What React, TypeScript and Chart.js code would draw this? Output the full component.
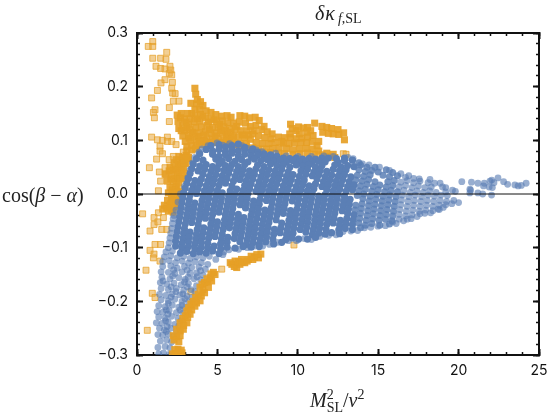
import React, { useEffect, useRef } from "react";
import { Chart, registerables } from "chart.js";

Chart.register(...registerables);

const xMajorTicks = [0, 5, 10, 15, 20, 25];

// flat lists: x, y, x, y ...
const blueTop = [
4.6,.09,5.1,.092,5.5,.088,5.9,.09,6.3,.093,6.7,.087,7.2,.084,
4.3,.083,4.7,.08,5.1,.083,5.5,.079,5.9,.082,6.3,.08,6.7,.083,7.1,.079,7.5,.078,7.9,.075,8.3,.073,
3.9,.075,4.7,.074,5.1,.07,5.5,.073,5.9,.076,6.3,.071,6.7,.074,7.1,.07,7.5,.072,7.9,.07,8.3,.068,8.7,.07,9.1,.067,9.5,.066,9.9,.067,10.3,.065,10.7,.066,11.1,.065,11.5,.067,11.9,.067,12.4,.066,12.9,.067,
3.7,.066,4.1,.063,4.9,.065,5.3,.062,5.7,.066,6.1,.061,6.5,.064,6.9,.06,7.3,.065,7.7,.062,8.1,.064,8.5,.061,8.9,.063,9.3,.06,9.7,.062,10.1,.059,10.5,.06,10.9,.059,11.3,.061,11.7,.06,12.5,.059,12.9,.062,13.4,.063,13.8,.058,
3.5,.056,3.9,.052,4.3,.055,4.7,.051,5.1,.056,5.5,.053,5.9,.055,6.3,.051,6.7,.055,7.5,.054,7.9,.051,8.3,.056,8.7,.053,9.1,.055,9.5,.05,9.9,.054,10.3,.052,10.7,.055,11.1,.05,11.5,.053,12.3,.054,12.7,.05,13.1,.053,13.5,.051,13.9,.054,14.3,.05,14.8,.05,
3.4,.047,3.8,.043,4.2,.046,4.6,.042,5,.046,5.4,.044,5.8,.047,6.2,.042,6.6,.045,7,.043,7.4,.047,7.8,.042,8.2,.045,8.6,.043,9,.046,9.4,.041,10.2,.043,10.6,.046,11,.041,11.4,.044,11.8,.042,12.2,.046,12.6,.043,13,.045,13.8,.045,14.2,.042,14.6,.044,15,.041,15.5,.045,15.9,.04,
];
const blueMid = [
3.3,.038,4.1,.037,4.5,.033,4.9,.036,5.3,.034,5.7,.038,6.1,.033,6.5,.036,6.9,.034,7.3,.037,7.7,.032,8.1,.036,8.5,.034,8.9,.037,9.3,.033,9.7,.036,10.1,.033,10.5,.037,10.9,.034,11.3,.036,11.7,.032,12.1,.035,12.5,.033,12.9,.036,13.3,.032,13.7,.035,14.1,.033,14.5,.036,15.3,.035,15.7,.032,16.2,.034,16.7,.031,17.2,.029,
3.2,.029,3.6,.025,4,.028,4.4,.024,4.8,.027,5.2,.025,5.6,.029,6,.024,6.4,.027,6.8,.025,7.2,.028,7.6,.023,8,.026,8.4,.024,8.8,.028,9.2,.024,9.6,.027,10,.023,10.4,.026,11.2,.028,11.6,.023,12,.026,12.4,.024,12.8,.027,13.2,.023,13.6,.026,14,.024,14.4,.027,14.8,.023,15.6,.023,16,.025,16.4,.022,16.8,.025,17.2,.021,17.6,.024,18.1,.021,18.5,.02,
3.1,.02,3.5,.016,3.9,.019,4.3,.015,4.7,.018,5.1,.016,5.5,.02,5.9,.015,6.7,.016,7.1,.019,7.5,.014,7.9,.017,8.3,.015,8.7,.019,9.1,.015,9.5,.018,9.9,.014,10.3,.017,10.7,.015,11.1,.019,11.5,.014,11.9,.017,12.3,.015,12.7,.018,13.1,.014,13.5,.017,13.9,.015,14.3,.018,14.7,.014,15.1,.017,15.5,.013,15.9,.016,16.3,.013,16.7,.016,17.1,.012,17.5,.015,17.9,.012,18.3,.013,19,.013,
3,.011,3.4,.007,3.8,.01,4.2,.006,4.6,.009,5,.007,5.8,.006,6.2,.009,6.6,.007,7,.01,7.4,.005,7.8,.008,8.2,.006,8.6,.01,9,.006,9.4,.009,9.8,.005,10.2,.008,10.6,.006,11,.01,11.8,.008,12.2,.006,12.6,.009,13,.005,13.4,.008,13.8,.006,14.2,.009,14.6,.005,15,.008,15.4,.004,15.8,.007,16.2,.004,16.6,.007,17,.003,17.4,.006,17.8,.003,18.2,.006,18.6,.003,19.2,.004,19.8,.005,
2.9,.002,3.3,-.002,3.7,.001,4.1,-.003,4.5,0,4.9,-.002,5.3,.002,5.7,-.003,6.1,0,6.5,-.002,6.9,.001,7.7,-.001,8.1,-.003,8.5,.001,8.9,-.003,9.3,0,9.7,-.004,10.1,-.001,10.5,-.003,10.9,.001,11.3,-.004,11.7,-.001,12.1,-.003,12.5,0,12.9,-.004,13.7,-.003,14.1,0,14.5,-.004,14.9,-.001,15.3,-.004,15.7,-.002,16.1,-.005,16.5,-.002,16.9,-.005,17.3,-.002,17.7,-.005,18.1,-.002,18.5,-.004,18.9,-.002,19.3,-.003,
2.85,-.007,3.25,-.011,4.05,-.012,4.45,-.009,4.85,-.011,5.25,-.007,5.65,-.012,6.05,-.009,6.45,-.011,6.85,-.008,7.25,-.013,7.65,-.01,8.05,-.012,8.45,-.008,8.85,-.012,9.25,-.009,9.65,-.013,10.05,-.01,10.45,-.012,10.85,-.008,11.25,-.013,11.65,-.01,12.05,-.012,12.45,-.009,12.85,-.013,13.25,-.01,14.05,-.009,14.45,-.013,14.85,-.01,15.25,-.013,15.65,-.011,16.05,-.014,16.45,-.011,16.85,-.014,17.25,-.012,17.65,-.014,18.05,-.012,18.45,-.014,18.85,-.012,19.25,-.014,19.7,-.012,20,-.016,
2.8,-.016,3.2,-.02,3.6,-.017,4,-.021,4.4,-.018,4.8,-.02,5.2,-.016,5.6,-.021,6,-.018,6.4,-.02,6.8,-.017,7.2,-.022,7.6,-.019,8.4,-.017,8.8,-.021,9.2,-.018,10,-.019,10.4,-.021,10.8,-.017,11.2,-.022,11.6,-.019,12,-.021,12.4,-.018,12.8,-.022,13.2,-.019,13.6,-.021,14,-.018,14.4,-.022,14.8,-.019,15.2,-.022,15.6,-.02,16,-.023,16.4,-.02,16.8,-.023,17.2,-.021,17.6,-.023,18,-.021,18.4,-.023,18.8,-.021,19.2,-.02,
2.75,-.025,3.15,-.029,3.55,-.026,3.95,-.03,4.35,-.027,4.75,-.029,5.15,-.025,5.55,-.03,5.95,-.027,6.75,-.026,7.15,-.031,7.55,-.028,7.95,-.03,8.35,-.026,8.75,-.03,9.15,-.027,9.55,-.031,9.95,-.028,10.35,-.03,10.75,-.026,11.15,-.031,11.55,-.028,11.95,-.03,12.35,-.027,12.75,-.031,13.15,-.028,13.55,-.03,13.95,-.027,14.35,-.031,14.75,-.028,15.15,-.031,15.55,-.029,15.95,-.032,16.35,-.029,16.75,-.032,17.15,-.03,17.55,-.032,17.95,-.03,18.4,-.031,18.8,-.029,
2.7,-.034,3.1,-.038,3.5,-.035,3.9,-.039,4.3,-.036,4.7,-.038,5.1,-.034,5.5,-.039,5.9,-.036,6.3,-.038,7.1,-.04,7.5,-.037,7.9,-.039,8.3,-.035,8.7,-.039,9.1,-.036,9.5,-.04,9.9,-.037,10.3,-.039,10.7,-.035,11.1,-.04,11.5,-.037,11.9,-.039,12.3,-.036,13.1,-.037,13.5,-.039,13.9,-.036,14.3,-.04,14.7,-.037,15.1,-.04,15.5,-.038,15.9,-.041,16.3,-.038,16.7,-.041,17.1,-.039,17.6,-.037,
];
const blueLow = [
2.65,-.043,3.05,-.047,3.45,-.044,3.85,-.048,4.25,-.045,4.65,-.047,5.45,-.048,5.85,-.045,6.25,-.047,6.65,-.044,7.05,-.049,7.45,-.046,7.85,-.048,8.25,-.044,8.65,-.048,9.45,-.049,9.85,-.046,10.25,-.048,10.65,-.044,11.05,-.049,11.45,-.046,11.85,-.048,12.25,-.045,12.65,-.049,13.05,-.046,13.45,-.048,13.85,-.045,14.25,-.049,14.65,-.046,15.05,-.049,15.45,-.047,15.85,-.05,16.3,-.047,16.8,-.047,
2.6,-.052,3,-.056,3.4,-.053,3.8,-.057,4.6,-.056,5,-.052,5.4,-.057,5.8,-.054,6.2,-.056,6.6,-.053,7,-.058,7.4,-.055,7.8,-.057,8.2,-.053,9,-.054,9.4,-.058,9.8,-.055,10.2,-.057,10.6,-.053,11,-.058,11.4,-.055,11.8,-.057,12.2,-.054,12.6,-.058,13,-.055,13.4,-.057,13.8,-.054,14.2,-.058,14.6,-.055,15.1,-.058,15.7,-.056,
2.55,-.061,2.95,-.065,3.75,-.066,4.15,-.063,4.55,-.065,4.95,-.061,5.35,-.066,5.75,-.063,6.15,-.065,6.55,-.062,6.95,-.067,7.35,-.064,7.75,-.066,8.15,-.062,8.55,-.066,8.95,-.063,9.35,-.067,9.75,-.064,10.15,-.066,10.55,-.062,10.95,-.067,11.35,-.064,11.75,-.066,12.55,-.067,12.95,-.064,13.4,-.066,13.9,-.063,
2.5,-.07,2.9,-.074,3.3,-.071,3.7,-.075,4.1,-.072,4.5,-.074,4.9,-.07,5.3,-.075,6.1,-.074,6.5,-.071,6.9,-.076,7.3,-.073,7.7,-.075,8.1,-.071,8.5,-.075,8.9,-.072,9.3,-.076,9.7,-.073,10.5,-.071,10.9,-.076,11.3,-.073,11.7,-.075,12.1,-.072,12.6,-.074,
2.45,-.079,2.85,-.083,3.25,-.08,3.65,-.084,4.05,-.081,4.45,-.083,4.85,-.079,5.25,-.084,5.65,-.081,6.05,-.083,6.45,-.08,6.85,-.085,7.25,-.082,7.65,-.084,8.05,-.08,8.45,-.084,9.25,-.085,9.65,-.082,10.05,-.084,10.6,-.084,11.1,-.081,
2.4,-.088,2.8,-.092,3.2,-.089,3.6,-.093,4,-.09,4.4,-.092,5.2,-.093,5.6,-.09,6.4,-.089,6.8,-.094,7.2,-.091,7.6,-.093,8,-.089,8.5,-.093,9,-.09,
2.4,-.097,2.8,-.101,3.2,-.098,3.6,-.102,4,-.099,4.4,-.101,4.8,-.097,5.2,-.102,5.6,-.099,6.1,-.101,6.6,-.098,7.1,-.099,7.6,-.098,
2.7,-.11,3.1,-.107,3.5,-.111,3.9,-.108,4.3,-.11,4.7,-.106,5.1,-.111,
];
const blueEdges = [
2.7,0,2.95,.014,3.15,.03,3.3,.045,3.45,.058,3.6,.068,3.85,.078,2.55,-.015,2.42,-.03,2.3,-.04,2.25,-.046,2.2,-.055,2.15,-.064,2.1,-.073,2.05,-.082,2,-.091,1.95,-.1,1.8,-.108,2.2,-.106,1.7,-.117,2.1,-.115,2.5,-.119,2.9,-.116,3.3,-.12,3.7,-.117,4.1,-.119,4.5,-.116,4.9,-.122,5.4,-.108,
1.6,-.126,2,-.124,2.4,-.128,2.8,-.125,3.2,-.129,3.6,-.126,4,-.128,4.4,-.131,
4.05,.084,4.42,.09,4.98,.095,5.33,.091,5.76,.094,6.14,.086,6.52,.09,6.88,.085,7.41,.082,7.77,.079,8.62,.076,9.28,.071,10.02,.07,10.84,.07,11.62,.071,12.21,.07,13.12,.068,13.44,.066,14.02,.056,14.43,.054,15.08,.05,15.7,.044,16.41,.038,16.9,.034,17.55,.028,18.22,.027,18.85,.02,19.2,.012,19.62,.007,
5.34,-.113,5.72,-.104,6.32,-.103,6.86,-.1,7.34,-.097,7.82,-.097,8.24,-.094,8.76,-.09,9.42,-.087,9.92,-.087,10.4,-.083,10.85,-.085,11.36,-.079,11.92,-.077,12.38,-.076,12.82,-.07,13.3,-.069,13.72,-.068,14.15,-.063,14.54,-.062,14.98,-.06,15.45,-.059,15.9,-.052,16.12,-.055,16.58,-.05,17.05,-.046,17.42,-.042,17.9,-.036,18.26,-.035,18.72,-.028,19.05,-.025,19.58,-.018,
];
const bluePlume = [
1.6,-.135,2.1,-.134,2.5,-.138,2.95,-.135,3.4,-.137,3.85,-.136,4.25,-.14,
1.5,-.145,1.95,-.146,2.35,-.148,2.8,-.145,3.3,-.148,3.7,-.147,4.1,-.151,
1.55,-.155,2.05,-.158,2.6,-.156,3,-.159,3.55,-.158,3.95,-.16,
1.45,-.165,1.85,-.168,2.3,-.166,2.75,-.169,3.2,-.167,3.7,-.171,
1.5,-.176,1.95,-.178,2.45,-.176,2.9,-.179,3.35,-.178,3.6,-.182,
1.4,-.187,1.8,-.189,2.2,-.186,2.65,-.188,3.1,-.19,3.4,-.193,
1.5,-.197,1.95,-.199,2.35,-.196,2.8,-.2,3.2,-.201,
1.35,-.208,1.75,-.21,2.2,-.207,2.6,-.211,3,-.211,
1.25,-.219,1.6,-.22,2,-.217,2.45,-.221,2.85,-.222,
1.35,-.229,1.75,-.231,2.15,-.228,2.55,-.232,2.75,-.236,
1.2,-.24,1.55,-.241,1.95,-.239,2.35,-.243,2.6,-.246,
1.4,-.25,1.7,-.253,2.1,-.25,2.45,-.255,
1.3,-.262,1.6,-.263,1.95,-.261,2.3,-.265,
1.45,-.274,1.85,-.272,2.15,-.276,
1.3,-.286,1.75,-.284,2.05,-.287,
1.35,-.298,1.65,-.296,2,-.299,
2.28,-.141,3.12,-.142,3.95,-.143,
2.22,-.153,3.18,-.155,3.73,-.154,
1.62,-.162,2.95,-.164,
2.12,-.173,3.12,-.173,
2.42,-.182,2.85,-.186,
2.12,-.192,2.98,-.195,
1.95,-.204,2.8,-.207,
1.82,-.216,2.68,-.216,
1.92,-.224,
1.78,-.236,
1.88,-.247,
1.82,-.256,
];
const blueTail = [
20.2,.023,20.8,.022,21.2,.02,21.6,.02,22.06,.026,22.45,.03,22.8,.023,23.05,.018,23.7,.015,24.2,.02,
20.75,.007,21.5,0,22.05,-.002,21.2,.002,20.7,.002,21.55,.015,21.9,.013,22.2,.021,22.1,.012,23.5,.017,23.9,.016,21.95,.024,20.7,.009,
];
const orangeLoose = [
.98,.284,.7,.275,.98,.275,.98,.253,1.85,.264,1.47,.253,1.8,.251,1.18,.238,1.47,.234,1.74,.233,2.05,.238,2.1,.231,2.01,.225,2.16,.222,1.74,.213,1.49,.207,2.2,.208,2.16,.197,2.22,.188,1.27,.193,2.37,.187,.91,.179,2.26,.173,2.61,.173,1.12,.157,1.02,.152,1.08,.142,2.01,.161,2.01,.135,
.91,.106,1.27,.101,1.58,.1,1.89,.106,1.89,.098,1.43,.089,2.16,.098,2.43,.092,1.43,.08,1.58,.075,1.22,.065,.77,.049,2.26,.07,2.88,.078,2,.064,1.39,.041,1.74,.049,1.47,.024,1.8,.036,1.33,.006,
.35,-.037,1.33,-.035,1.06,-.044,1.64,-.044,1.06,-.057,.81,-.069,1.54,-.066,1.85,-.066,1.3,-.052,1.12,-.094,1.47,-.094,.81,-.105,1.06,-.112,1.02,-.119,1.43,-.125,.56,-.142,.95,-.185,1.12,-.193,.64,-.254,
12.83,.075,13,.074,9.76,-.095,5.27,-.14,3.35,-.182,
];
const orangeWedge = [
2.6,.07,2.95,.066,2.3,.058,2.7,.056,3.05,.057,2.05,.05,2.4,.046,2.8,.044,1.75,.037,2.15,.036,2.5,.033,2.85,.03,1.9,.024,2.25,.022,2.6,.02,2.05,.012,2.4,.009,2.7,.006,1.95,.002,2.3,-.003,2.6,-.004,1.9,-.012,2.2,-.014,2.5,-.012,1.7,-.021,2.05,-.023,2.35,-.024,1.6,-.028,1.95,-.032,2.25,-.034,
2.45,.064,2.8,.062,3.2,.068,2.55,.052,2.9,.05,2.25,.045,2.6,.04,2.95,.038,2,.043,2.35,.028,2.7,.028,2.1,.028,2.45,.015,2.2,.008,2.55,.003,2.15,-.006,2.4,-.018,2.1,-.018,1.85,-.026,2.15,-.03,
];
const orangeBand = [
3.6,.197,3.65,.186,3.75,.176,3.7,.168,3.95,.172,4.1,.165,3.9,.158,3.6,.158,3.35,.169,3.15,.15,2.75,.15,2.5,.147,2.95,.14,3.3,.14,3.6,.146,3.95,.148,4.3,.155,4.6,.152,4.9,.148,5.25,.145,5.6,.146,5.85,.143,6.4,.146,6.7,.145,7,.142,7.35,.143,7.6,.137,7.9,.126,
2.55,.135,2.85,.128,3.2,.13,3.55,.134,3.9,.136,4.25,.142,4.6,.14,4.95,.135,5.3,.136,5.65,.133,6,.132,6.35,.134,6.75,.132,7.05,.126,7.4,.128,7.75,.12,8.1,.116,8.4,.112,
2.6,.122,2.95,.118,3.3,.12,3.65,.124,4,.125,4.35,.128,4.7,.124,5.05,.124,5.4,.125,5.75,.122,6.1,.12,6.45,.118,6.85,.118,7.2,.112,7.55,.108,7.95,.105,8.35,.103,8.8,.106,
2.85,.108,3.2,.11,3.55,.112,3.9,.114,4.25,.116,4.6,.113,4.95,.114,5.3,.113,5.65,.111,6,.108,6.3,.106,6.7,.105,7.05,.102,7.4,.096,7.8,.094,8.2,.094,8.6,.096,9,.098,
3,.098,3.35,.1,3.7,.102,4,.1,4.35,.104,4.7,.102,5.05,.103,5.4,.1,5.75,.098,6.1,.095,6.45,.094,6.8,.094,7.2,.086,7.6,.084,8.05,.084,8.45,.085,8.85,.086,
3.1,.088,3.4,.09,3.7,.09,4.05,.092,4.4,.094,4.8,.096,5.2,.096,5.6,.093,6,.092,6.4,.09,6.8,.088,7.8,.078,8.3,.077,8.8,.076,
3.1,.08,3.4,.082,3.65,.084,2.85,.068,3.05,.072,2.95,.058,3.15,.066,
2.7,.142,3.05,.134,3.4,.15,3.75,.14,4.1,.145,4.45,.134,4.8,.138,5.15,.13,5.5,.118,5.85,.115,6.2,.126,6.55,.11,6.95,.11,7.3,.118,2.75,.118,3.1,.124,3.45,.115,3.8,.107,4.15,.11,4.5,.12,4.85,.108,5.2,.118,3.25,.104,3.85,.097,4.2,.098,4.6,.096,5.55,.106,5.9,.102,
9.55,.13,9.65,.122,9.9,.118,10.05,.125,10.35,.123,10.6,.124,10.8,.118,11.05,.132,10.55,.115,10.1,.112,9.5,.112,9.2,.105,9.55,.105,9.9,.103,10.25,.104,10.6,.106,10.95,.109,11.3,.098,9.1,.095,9.45,.094,9.8,.095,10.2,.096,10.55,.096,10.9,.098,11.2,.09,9.3,.085,9.7,.082,10.1,.084,10.5,.085,10.9,.084,11.3,.08,9.2,.075,9.7,.074,10.15,.075,10.6,.076,11.05,.074,11.5,.073,11.8,.076,12.2,.074,11.85,.07,12.3,.068,
11.5,.126,11.8,.124,12.1,.122,12.5,.12,12.85,.114,11.55,.115,11.9,.113,12.2,.112,12.55,.111,12.9,.101,
];
const orangeLower = [
2.2,-.298,2.4,-.297,2.6,-.298,2.8,-.296,2.35,-.29,2.55,-.289,2.75,-.291,
2.26,-.264,2.47,-.266,2.68,-.264,2.3,-.272,2.6,-.275,2.47,-.252,2.68,-.255,2.88,-.252,2.68,-.24,2.9,-.245,3.1,-.24,2.85,-.232,3,-.227,3.15,-.23,3.3,-.224,3.1,-.218,3.2,-.212,3.4,-.216,3.6,-.209,3.35,-.205,3.5,-.2,3.7,-.203,3.92,-.199,3.65,-.193,3.8,-.187,4,-.19,4.2,-.184,3.92,-.174,4.1,-.178,4.44,-.174,4.05,-.168,4.2,-.165,4.4,-.164,4.64,-.162,4.35,-.158,4.54,-.156,4.85,-.15,4.75,-.146,4.6,-.149,
5.8,-.128,5.9,-.131,6.2,-.137,6.05,-.135,6.4,-.131,6.7,-.128,6.1,-.125,6.3,-.126,6.5,-.122,6.55,-.127,6.93,-.122,6.85,-.125,7.1,-.116,7.2,-.122,7.3,-.118,7.45,-.113,7.55,-.119,7.7,-.112,
];

const pts = (flat: number[]) => {
  const out: { x: number; y: number }[] = [];
  for (let i = 0; i < flat.length; i += 2) out.push({ x: flat[i], y: flat[i + 1] });
  return out;
};

const blueCore = pts([...blueTop, ...blueMid, ...blueLow]);
const blueBody = blueCore.filter((p) => p.x <= 13.5);
const blueShoulder = blueCore.filter((p) => p.x > 13.5 && p.x <= 16.2);
const blueTip = blueCore.filter((p) => p.x > 16.2);
const blueThin = [...pts(blueEdges), ...pts(bluePlume), ...pts(blueTail), ...blueTip];
const orangeMass = [...orangeWedge, ...orangeBand];
const zeroLine = [0, 0, 25, 0];

const INK = "#111";
const FONT = { family: "Inter", size: 14 };

function axis(position: string, min: number, max: number, step: number, tick: number, tickW: number, extra: any = {}) {
  const horizontal = position === "top" || position === "bottom";
  return {
    type: "linear",
    position,
    min,
    max,
    weight: extra.weight ?? 0,
    ticks: { stepSize: step, display: false, autoSkip: false, maxRotation: 0, ...(extra.ticks || {}) },
    grid: { drawOnChartArea: false, drawTicks: true, tickLength: tick, tickWidth: tickW, tickColor: INK },
    border: { display: extra.border ?? false, color: INK, width: 2 },
    afterFit: (s: any) => {
      if (horizontal) s.height = extra.size ?? 0;
      else s.width = extra.size ?? 0;
      s.paddingLeft = 0;
      s.paddingRight = 0;
      s.paddingTop = 0;
      s.paddingBottom = 0;
    },
  };
}

const fmt = (digits: number) => (v: any) => {
  const n = Number(v);
  const s = Math.abs(n).toFixed(digits);
  return n < -1e-9 ? "\u2212" + s : s;
};

const labelStyle: React.CSSProperties = {
  position: "absolute",
  fontFamily: "'Liberation Serif', serif",
  fontSize: 20,
  color: "#222",
  whiteSpace: "nowrap",
  lineHeight: "22px",
};
const small: React.CSSProperties = { fontSize: 14, lineHeight: 0 };

export default function App() {
  const ref = useRef<HTMLCanvasElement>(null);
  useEffect(() => {
    const dot = (label: string, data: any[], color: string, order: number, r: number) => ({
      label,
      data,
      pointStyle: "circle",
      pointRadius: r,
      pointBorderWidth: 0,
      backgroundColor: color,
      borderColor: "rgba(0,0,0,0)",
      order,
      xAxisID: "x",
      yAxisID: "y",
    });
    const square = (label: string, data: any[], fill: string, edge: string, order: number, r: number, bw: number) => ({
      label,
      data,
      pointStyle: "rect",
      pointRadius: r,
      pointBorderWidth: bw,
      backgroundColor: fill,
      borderColor: edge,
      order,
      xAxisID: "x",
      yAxisID: "y",
    });
    const chart = new Chart(ref.current!, {
      type: "scatter",
      data: {
        datasets: [
          {
            label: "zero",
            data: pts(zeroLine),
            showLine: true,
            borderColor: "#111",
            borderWidth: 1,
            pointRadius: 0,
            order: 0,
            xAxisID: "x",
            yAxisID: "y",
          } as any,
          square("orange lower", pts(orangeLower), "rgba(230,160,38,0.92)", "rgba(0,0,0,0)", 1, 5, 0),
          dot("blue body", blueBody, "rgb(91,127,181)", 2, 3.6),
          dot("blue shoulder", blueShoulder, "rgba(91,127,181,0.85)", 3, 3.5),
          dot("blue fringe", blueThin, "rgba(88,125,179,0.62)", 4, 3.4),
          square("orange mass", pts(orangeMass), "rgba(230,160,38,0.92)", "rgba(0,0,0,0)", 5, 5, 0),
          square("orange loose", pts(orangeLoose), "rgba(232,168,60,0.55)", "rgba(230,160,40,0.75)", 6, 4.2, 1),
        ],
      },
      options: {
        responsive: false,
        animation: false,
        layout: { padding: { top: 33, right: 12, left: 0, bottom: 0 } },
        plugins: { legend: { display: false }, tooltip: { enabled: false }, title: { display: false } },
        scales: {
          x: axis("bottom", 0, 25, 5, -6, 2, {
            border: true,
            size: 60,
            ticks: { display: true, padding: 13, color: INK, font: FONT, callback: (v: any) => (xMajorTicks.includes(Number(v)) ? String(v) : "") },
          }),
          xMinor: axis("bottom", 0, 25, 1, -3, 1.5, { weight: -1 }),
          xTop: axis("top", 0, 25, 5, -6, 2, { border: true }),
          xTopMinor: axis("top", 0, 25, 1, -3, 1.5, { weight: -1 }),
          y: axis("left", -0.3, 0.3, 0.1, -6, 2, {
            border: true,
            size: 137,
            ticks: { display: true, padding: 15, color: INK, font: FONT, callback: fmt(1) },
          }),
          yMinor: axis("left", -0.3, 0.3, 0.02, -3, 1.5, { weight: -1 }),
          yRight: axis("right", -0.3, 0.3, 0.1, -6, 2, { border: true }),
          yRightMinor: axis("right", -0.3, 0.3, 0.02, -3, 1.5, { weight: -1 }),
        } as any,
      },
    } as any);
    return () => chart.destroy();
  }, []);
  return (
    <div style={{ position: "absolute", left: 0, top: 0, width: 551, height: 415, background: "#fff" }}>
      <canvas ref={ref} width={551} height={415} style={{ display: "block" }} />
      <div style={{ ...labelStyle, left: 315, top: 2 }}>
        <i style={{ letterSpacing: 1 }}>δκ</i>
        <sub style={{ ...small, marginLeft: 2, verticalAlign: "-3px" }}><i>f</i>,SL</sub>
      </div>
      <div style={{ ...labelStyle, left: 310, top: 389 }}>
        <i>M</i>
        <sup style={{ ...small, marginRight: -7 }}>2</sup>
        <sub style={small}>SL</sub>
        /<i>v</i>
        <sup style={small}>2</sup>
      </div>
      <div style={{ ...labelStyle, left: 2, top: 184 }}>
        cos(<i>β</i> − <i>α</i>)
      </div>
    </div>
  );
}
